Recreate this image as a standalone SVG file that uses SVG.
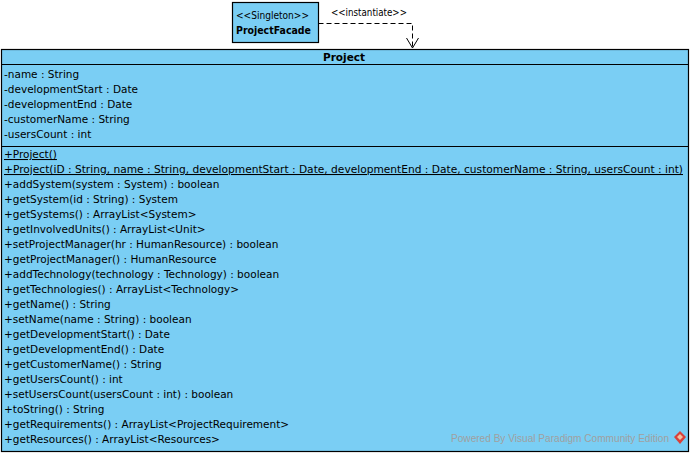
<svg xmlns="http://www.w3.org/2000/svg" width="692" height="455" viewBox="0 0 692 455">
<style>
.box{fill:#7acef4;stroke:#000;stroke-width:1.2}
.t{font-family:Tahoma,"DejaVu Sans",sans-serif;font-size:10.5px;fill:#000}
.u{text-decoration:underline}
.b{font-weight:bold}
.wm{font-family:"Liberation Sans",Arial,sans-serif;font-size:10.5px;fill:#a0a0a0}
.conn{fill:none;stroke:#000;stroke-width:1}
</style>
<rect width="692" height="455" fill="#fff"/>
<g id="ProjectFacade">
<rect class="box" x="232.5" y="2.5" width="86" height="40"/>
<text class="t" x="236" y="19" textLength="73" lengthAdjust="spacingAndGlyphs">&lt;&lt;Singleton&gt;&gt;</text>
<text class="t b" x="236" y="34" textLength="75" lengthAdjust="spacingAndGlyphs">ProjectFacade</text>
</g>
<g id="Project">
<rect class="box" x="1.5" y="49.5" width="687" height="402"/>
<line x1="1.5" y1="64.5" x2="688.5" y2="64.5" stroke="#000"/>
<line x1="1.5" y1="146.5" x2="688.5" y2="146.5" stroke="#000"/>
<text class="t b" x="344" y="61" text-anchor="middle" font-size="11.5">Project</text>
<text class="t" x="4" y="78">-name : String</text>
<text class="t" x="4" y="93">-developmentStart : Date</text>
<text class="t" x="4" y="108">-developmentEnd : Date</text>
<text class="t" x="4" y="123">-customerName : String</text>
<text class="t" x="4" y="138">-usersCount : int</text>
<text class="t u" x="4" y="158">+Project()</text>
<text class="t u" x="4" y="173" textLength="679" lengthAdjust="spacingAndGlyphs">+Project(iD : String, name : String, developmentStart : Date, developmentEnd : Date, customerName : String, usersCount : int)</text>
<text class="t" x="4" y="188">+addSystem(system : System) : boolean</text>
<text class="t" x="4" y="203">+getSystem(id : String) : System</text>
<text class="t" x="4" y="218">+getSystems() : ArrayList&lt;System&gt;</text>
<text class="t" x="4" y="233">+getInvolvedUnits() : ArrayList&lt;Unit&gt;</text>
<text class="t" x="4" y="248">+setProjectManager(hr : HumanResource) : boolean</text>
<text class="t" x="4" y="263">+getProjectManager() : HumanResource</text>
<text class="t" x="4" y="278">+addTechnology(technology : Technology) : boolean</text>
<text class="t" x="4" y="293">+getTechnologies() : ArrayList&lt;Technology&gt;</text>
<text class="t" x="4" y="308">+getName() : String</text>
<text class="t" x="4" y="323">+setName(name : String) : boolean</text>
<text class="t" x="4" y="338">+getDevelopmentStart() : Date</text>
<text class="t" x="4" y="353">+getDevelopmentEnd() : Date</text>
<text class="t" x="4" y="368">+getCustomerName() : String</text>
<text class="t" x="4" y="383">+getUsersCount() : int</text>
<text class="t" x="4" y="398">+setUsersCount(usersCount : int) : boolean</text>
<text class="t" x="4" y="413">+toString() : String</text>
<text class="t" x="4" y="428">+getRequirements() : ArrayList&lt;ProjectRequirement&gt;</text>
<text class="t" x="4" y="443">+getResources() : ArrayList&lt;Resources&gt;</text>
</g>
<g id="connectors">
<path class="conn" d="M318.5 23.5 H412.5 V48" stroke-dasharray="5,3"/>
<path class="conn" d="M406.5 38 L412.5 48 L418.5 38"/>
<text class="t" x="331" y="16" textLength="76" lengthAdjust="spacingAndGlyphs">&lt;&lt;instantiate&gt;&gt;</text>
</g>
<g id="watermark">
<text class="wm" x="451" y="442" textLength="218" lengthAdjust="spacingAndGlyphs">Powered By  Visual Paradigm Community Edition</text>
<polygon points="680,431 686,437 680,444 674,437" fill="#d9413a"/>
<polygon points="680,434 683,437 680,440 677,437" fill="#f5c0a0"/>
</g>
</svg>
